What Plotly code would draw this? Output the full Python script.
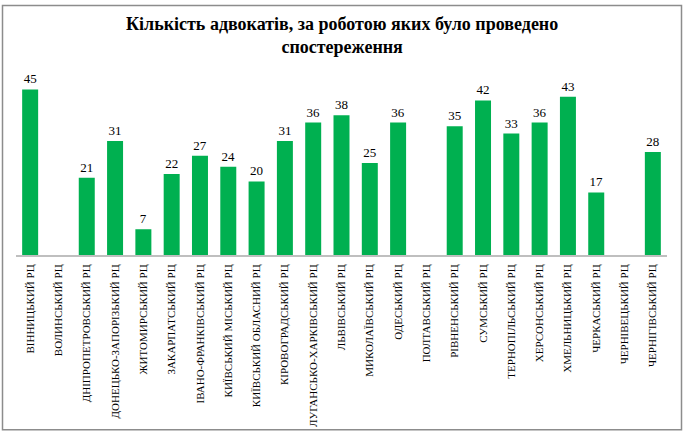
import plotly.graph_objects as go

categories = [
    "ВІННИЦЬКИЙ РЦ", "ВОЛИНСЬКИЙ РЦ", "ДНІПРОПЕТРОВСЬКИЙ РЦ", "ДОНЕЦЬКО-ЗАПОРІЗЬКИЙ РЦ",
    "ЖИТОМИРСЬКИЙ РЦ", "ЗАКАРПАТСЬКИЙ РЦ", "ІВАНО-ФРАНКІВСЬКИЙ РЦ", "КИЇВСЬКИЙ МІСЬКИЙ РЦ",
    "КИЇВСЬКИЙ ОБЛАСНИЙ РЦ", "КІРОВОГРАДСЬКИЙ РЦ", "ЛУГАНСЬКО-ХАРКІВСЬКИЙ РЦ", "ЛЬВІВСЬКИЙ РЦ",
    "МИКОЛАЇВСЬКИЙ РЦ", "ОДЕСЬКИЙ РЦ", "ПОЛТАВСЬКИЙ РЦ", "РІВНЕНСЬКИЙ РЦ", "СУМСЬКИЙ РЦ",
    "ТЕРНОПІЛЬСЬКИЙ РЦ", "ХЕРСОНСЬКИЙ РЦ", "ХМЕЛЬНИЦЬКИЙ РЦ", "ЧЕРКАСЬКИЙ РЦ",
    "ЧЕРНІВЕЦЬКИЙ РЦ", "ЧЕРНІГІВСЬКИЙ РЦ",
]
values = [45, None, 21, 31, 7, 22, 27, 24, 20, 31, 36, 38, 25, 36, None, 35, 42, 33, 36, 43, 17, None, 28]
title_text = "Кількість адвокатів, за роботою яких було проведено<br>спостереження"

SERIF = "Liberation Serif, Times New Roman, serif"
W, H = 684, 439
ml, mr, mt, mb = 16, 17, 71, 181
pw = W - ml - mr
ph = H - mt - mb

def px_x(p):
    return (p - ml) / pw

def px_y(p):
    return (H - mb - p) / ph

fig = go.Figure(go.Bar(
    x=categories,
    y=values,
    marker=dict(color="#00B050", line=dict(width=0)),
    text=[str(v) if v is not None else "" for v in values],
    textposition="outside",
    textfont=dict(family=SERIF, size=13, color="#000000"),
    cliponaxis=False,
))

fig.update_layout(
    width=W, height=H,
    margin=dict(l=ml, r=mr, t=mt, b=mb),
    paper_bgcolor="white",
    plot_bgcolor="white",
    bargap=0.435,
    showlegend=False,
    xaxis=dict(
        tickangle=-90,
        tickfont=dict(family=SERIF, size=11, color="#000000"),
        showline=True, linecolor="#BFBFBF", linewidth=2,
        ticks="", showgrid=False, ticklabelstandoff=3,
    ),
    yaxis=dict(
        range=[0, 50], visible=False, showgrid=False, zeroline=False,
    ),
    annotations=[dict(
        text=title_text, showarrow=False,
        xref="paper", yref="paper", x=px_x(342), y=px_y(11),
        xanchor="center", yanchor="top", align="center",
        font=dict(family=SERIF, size=18, color="#000000", weight="bold"),
    )],
    shapes=[dict(
        type="rect", xref="paper", yref="paper",
        x0=px_x(2.5), x1=px_x(681.5), y0=px_y(435.5), y1=px_y(4.5),
        line=dict(color="#8C8C8C", width=1.5), fillcolor="rgba(0,0,0,0)", layer="below",
    )],
)

fig.write_html("out.html")
